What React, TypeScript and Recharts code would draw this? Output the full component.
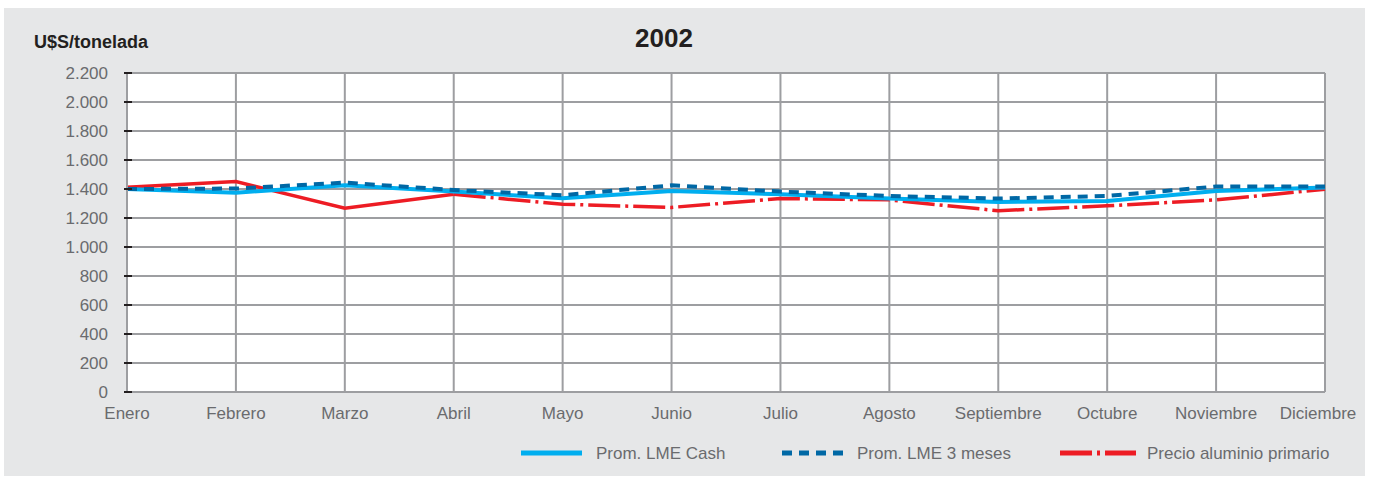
import React from 'react';
import { LineChart, Line, XAxis, YAxis, CartesianGrid } from 'recharts';

const months = ['Enero', 'Febrero', 'Marzo', 'Abril', 'Mayo', 'Junio', 'Julio', 'Agosto', 'Septiembre', 'Octubre', 'Noviembre', 'Diciembre'];
const lmeCash = [1400, 1375, 1425, 1382, 1336, 1387, 1364, 1334, 1311, 1318, 1387, 1410];
const lme3m = [1400, 1403, 1444, 1393, 1357, 1425, 1382, 1352, 1334, 1352, 1417, 1417];
const primario = [1412, 1451, 1267, 1364, 1295, 1273, 1334, 1325, 1250, 1284, 1325, 1398];
const yTicks = [0, 200, 400, 600, 800, 1000, 1200, 1400, 1600, 1800, 2000, 2200];

// the reference draws the red series solid up to Abril, dash-dot afterwards
const data = months.map((m, i) => ({
  m,
  cash: lmeCash[i],
  tres: lme3m[i],
  primA: i <= 3 ? primario[i] : null,
  primB: i >= 3 ? primario[i] : null,
}));

const TEXT = '#6a6b6e';
const FONT = '"Liberation Sans", Arial, sans-serif';

const fmt = (v: number) => v.toString().replace(/\B(?=(\d{3})+(?!\d))/g, '.');

const YTick = (props: any) => {
  const { x, y, payload } = props;
  return (
    <g>
      <line x1={x - 3} x2={x + 5} y1={y} y2={y} stroke="#231f20" strokeWidth={2} />
      <text x={x - 19} y={y} dy="0.36em" textAnchor="end" fill={TEXT} fontSize={17} fontFamily={FONT}>
        {fmt(payload.value)}
      </text>
    </g>
  );
};

const XTick = (props: any) => {
  const { x, y, payload, index } = props;
  const shift = index === months.length - 1 ? -7 : 0;
  return (
    <text x={x + shift} y={y + 21} dy="0.36em" textAnchor="middle" fill={TEXT} fontSize={17} fontFamily={FONT}>
      {payload.value}
    </text>
  );
};

const legendItems = [
  { label: 'Prom. LME Cash', color: '#00aeef', dash: undefined as string | undefined, x: 517, w: 61, gap: 14 },
  { label: 'Prom. LME 3 meses', color: '#0068a5', dash: '10 7', x: 778, w: 61, gap: 14 },
  { label: 'Precio aluminio primario', color: '#ed1c24', dash: '32 5 3 5', x: 1056, w: 76, gap: 11 },
];

export default function App() {
  return (
    <div style={{ position: 'absolute', left: 4, top: 8, width: 1361, height: 468, background: '#e6e7e8' }}>
      <div style={{ position: 'absolute', left: 30, top: 24, fontFamily: FONT, fontWeight: 'bold', fontSize: 18, color: '#231f20', whiteSpace: 'nowrap' }}>
        U$S/tonelada
      </div>
      <div style={{ position: 'absolute', left: 560, width: 200, top: 15, textAlign: 'center', fontFamily: FONT, fontWeight: 'bold', fontSize: 26, color: '#231f20' }}>
        2002
      </div>
      <LineChart width={1361} height={468} data={data} margin={{ top: 65, right: 40, left: 0, bottom: 52 }}>
        <CartesianGrid stroke="#9d9ea1" strokeWidth={2} vertical={true} horizontal={true} fill="#ffffff" fillOpacity={1} />
        <XAxis dataKey="m" axisLine={{ stroke: '#9d9ea1', strokeWidth: 2 }} tickLine={false} tick={<XTick />} interval={0} height={32} tickSize={0} tickMargin={0} />
        <YAxis domain={[0, 2200]} ticks={yTicks} width={123} axisLine={{ stroke: '#9d9ea1', strokeWidth: 2 }} tickLine={false} tick={<YTick />} tickSize={0} tickMargin={0} interval={0} />
        <Line dataKey="primA" stroke="#ed1c24" strokeWidth={3.5} dot={false} connectNulls={false} isAnimationActive={false} />
        <Line dataKey="primB" stroke="#ed1c24" strokeWidth={3.5} strokeDasharray="32 5 3 5" dot={false} connectNulls={false} isAnimationActive={false} />
        <Line dataKey="cash" stroke="#00aeef" strokeWidth={4} dot={false} isAnimationActive={false} />
        <Line dataKey="tres" stroke="#0068a5" strokeWidth={4} strokeDasharray="10 7" dot={false} isAnimationActive={false} />
      </LineChart>
      <svg style={{ position: 'absolute', left: 0, top: 430 }} width={1361} height={30}>
        {legendItems.map((it) => (
          <g key={it.label}>
            <line x1={it.x} x2={it.x + it.w} y1={15} y2={15} stroke={it.color} strokeWidth={5} strokeDasharray={it.dash} />
            <text x={it.x + it.w + it.gap} y={15} dy="0.36em" fill={TEXT} fontSize={17} fontFamily={FONT}>{it.label}</text>
          </g>
        ))}
      </svg>
    </div>
  );
}
